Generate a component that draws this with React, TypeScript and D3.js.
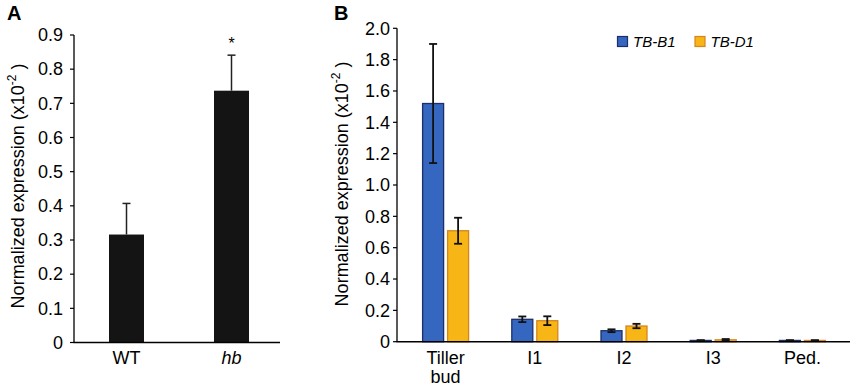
import React, { useEffect } from "react";
import * as d3 from "d3";

const catsA = ["WT", "hb"];
const valsA = [0.316, 0.737];
const errA = [0.091, 0.104];
const ticksA = [0, 0.1, 0.2, 0.3, 0.4, 0.5, 0.6, 0.7, 0.8, 0.9];

const catsB = ["Tiller bud", "I1", "I2", "I3", "Ped."];
const seriesNames = ["TB-B1", "TB-D1"];
const valsB1 = [1.52, 0.143, 0.07, 0.008, 0.008];
const errB1 = [0.38, 0.018, 0.009, 0.002, 0.002];
const valsD1 = [0.708, 0.134, 0.1, 0.012, 0.008];
const errD1 = [0.083, 0.028, 0.014, 0.005, 0.002];
const ticksB = [0, 0.2, 0.4, 0.6, 0.8, 1.0, 1.2, 1.4, 1.6, 1.8, 2.0];

const FONT = "'Liberation Sans', Arial, sans-serif";
const fills = ["#3566c0", "#f7b516"];
const strokes = ["#1c2f66", "#d4861f"];

export default function App() {
  useEffect(() => {
    document.body.style.margin = "0";
  }, []);

  const yA = d3.scaleLinear().domain([0, 0.9]).range([342.5, 35]);
  const xA = d3.scaleBand().domain(catsA).range([74, 284]);
  const yB = d3.scaleLinear().domain([0, 2]).range([341.7, 28.3]);
  const xB = d3.scaleBand().domain(catsB).range([401, 847]);
  const series = [
    { name: seriesNames[0], vals: valsB1, errs: errB1 },
    { name: seriesNames[1], vals: valsD1, errs: errD1 },
  ];
  const bw = 21;
  const off = [-12.5, 12.5];

  return (
    <svg width={850} height={387} style={{ display: "block", background: "#fff" }} fontFamily={FONT}>
      {/* Panel A */}
      <text x={7} y={20} fontSize={20} fontWeight="bold">A</text>
      <text transform={`translate(24,186) rotate(-90)`} textAnchor="middle" fontSize={18}>
        Normalized expression (x10<tspan fontSize={12} dy={-8}>-2</tspan><tspan dy={8}> )</tspan>
      </text>
      {ticksA.map((t) => (
        <g key={"ta" + t}>
          <line x1={70} x2={74} y1={yA(t)} y2={yA(t)} stroke="#000" strokeWidth={1.2} />
          <text x={63} y={yA(t)} dy="0.35em" textAnchor="end" fontSize={18}>
            {t === 0 ? "0" : d3.format(".1f")(t)}
          </text>
        </g>
      ))}
      {catsA.map((c, i) => {
        const cx = (xA(c) as number) + xA.bandwidth() / 2;
        const top = yA(valsA[i] + errA[i]);
        return (
          <g key={c}>
            <rect x={cx - 17.5} y={yA(valsA[i])} width={35} height={yA(0) - yA(valsA[i])} fill="#141414" />
            <line x1={cx} x2={cx} y1={yA(valsA[i])} y2={top} stroke="#222" strokeWidth={1.5} />
            <line x1={cx - 4} x2={cx + 4} y1={top} y2={top} stroke="#222" strokeWidth={1.5} />
            <text x={cx} y={364} textAnchor="middle" fontSize={18} fontStyle={c === "hb" ? "italic" : "normal"}>{c}</text>
          </g>
        );
      })}
      <text x={(xA("hb") as number) + xA.bandwidth() / 2} y={49} textAnchor="middle" fontSize={16}>*</text>
      <line x1={74} x2={74} y1={yA(0.9)} y2={yA(0)} stroke="#000" strokeWidth={1.3} />
      <line x1={73.5} x2={280} y1={yA(0)} y2={yA(0)} stroke="#000" strokeWidth={1.5} />

      {/* Panel B */}
      <text x={334} y={20} fontSize={20} fontWeight="bold">B</text>
      <text transform={`translate(348,184) rotate(-90)`} textAnchor="middle" fontSize={18}>
        Normalized expression (x10<tspan fontSize={12} dy={-8}>-2</tspan><tspan dy={8}> )</tspan>
      </text>
      {ticksB.map((t) => (
        <g key={"tb" + t}>
          <line x1={393} x2={397} y1={yB(t)} y2={yB(t)} stroke="#000" strokeWidth={1.2} />
          <text x={390} y={yB(t)} dy="0.35em" textAnchor="end" fontSize={18}>
            {t === 0 ? "0" : d3.format(".1f")(t)}
          </text>
        </g>
      ))}
      {catsB.map((c, i) => {
        const cx = (xB(c) as number) + xB.bandwidth() / 2;
        return (
          <g key={c}>
            {series.map((s, k) => {
              const bx = cx + off[k];
              const v = s.vals[i];
              const e = s.errs[i];
              return (
                <g key={s.name}>
                  <rect x={bx - bw / 2} y={yB(v)} width={bw} height={yB(0) - yB(v)} fill={fills[k]} stroke={strokes[k]} strokeWidth={1.3} />
                  <line x1={bx} x2={bx} y1={yB(v - e)} y2={yB(v + e)} stroke="#111" strokeWidth={1.8} />
                  <line x1={bx - 4} x2={bx + 4} y1={yB(v + e)} y2={yB(v + e)} stroke="#111" strokeWidth={1.8} />
                  <line x1={bx - 4} x2={bx + 4} y1={yB(v - e)} y2={yB(v - e)} stroke="#111" strokeWidth={1.8} />
                </g>
              );
            })}
            {c.split(" ").map((w, j) => (
              <text key={w} x={cx} y={364 + j * 19} textAnchor="middle" fontSize={18}>{w}</text>
            ))}
          </g>
        );
      })}
      <line x1={397} x2={397} y1={yB(2)} y2={yB(0)} stroke="#000" strokeWidth={1.3} />
      <line x1={396.5} x2={850} y1={yB(0)} y2={yB(0)} stroke="#000" strokeWidth={1.5} />

      {/* Legend */}
      {series.map((s, k) => {
        const lx = k === 0 ? 617.5 : 695;
        return (
          <g key={"lg" + s.name}>
            <rect x={lx} y={36.5} width={10} height={10} fill={fills[k]} stroke={strokes[k]} strokeWidth={1.2} />
            <text x={lx + 15.5} y={41.5} dy="0.35em" fontSize={15} fontStyle="italic">{s.name}</text>
          </g>
        );
      })}
    </svg>
  );
}
